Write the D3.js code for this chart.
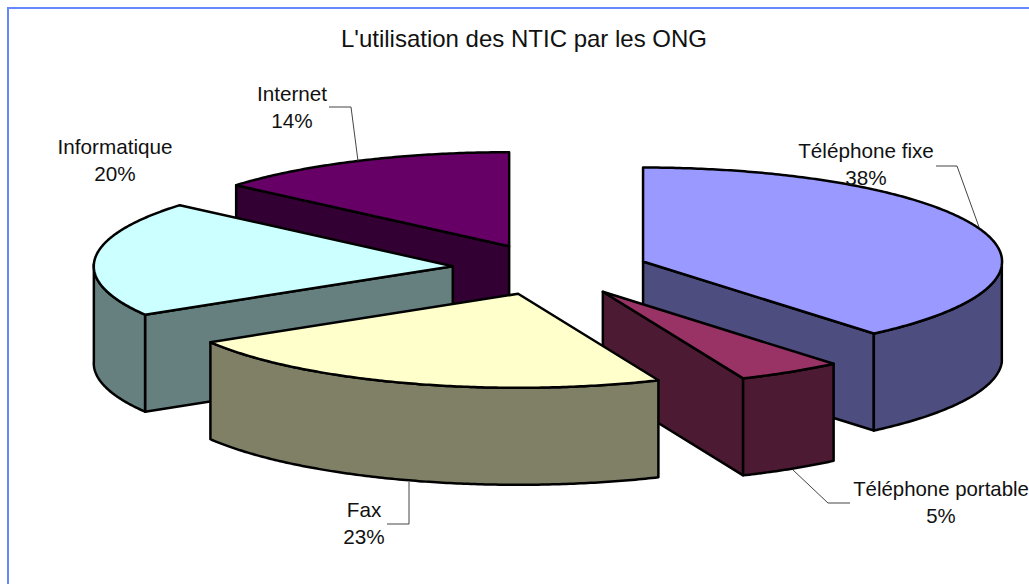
<!DOCTYPE html>
<html><head><meta charset="utf-8">
<script src="https://cdn.jsdelivr.net/npm/d3@7"></script>
<style>html,body{margin:0;padding:0;background:#fff;overflow:hidden}svg{display:block}
text{font-family:"Liberation Sans",Arial,sans-serif;fill:#111}</style></head>
<body><div id="chart"></div>
<script>
const title = "L'utilisation des NTIC par les ONG";
const categories = ["Téléphone fixe","Téléphone portable","Fax","Informatique","Internet"];
const shares = [38,5,23,20,14];
const topColors = ["#9999FF","#993366","#FFFFCC","#CCFFFF","#660066"];
const sideColors = ["#4D4D80","#4D1A33","#808066","#668080","#330033"];
const labelAnchors = [[866,158],[941,496],[364,517],[115,154],[292,101]];
const leaders = [
  [[936,166],[957,166],[979,227]],
  [[793,470],[828,503],[850,503]],
  [[409,482],[409,524],[387,524]],
  [],
  [[329,107],[351,107],[358,161]]
];
// pulled-out offset of each slice, in pie-radius units
const offsets = [[.262,-.09],[.150,.232],[-.086,.253],[-.268,-.04],[-.111,-.253]];
const W=1029,H=584, drop=97;
const sx=d3.scaleLinear().domain([-1,1]).range([549-359,549+359]);
const sy=d3.scaleLinear().domain([-1,1]).range([270-94,270+94]);
// 3D view slightly distorts the sweep of the slices
const warp=d3.scaleLinear().domain([0,136.8,154.8,237.6,309.6,360]).range([0,140,157,239,310.5,360]);
const svg=d3.select("#chart").append("svg").attr("width",W).attr("height",H);
svg.append("rect").attr("x",8).attr("y",8).attr("width",W+20).attr("height",H+20)
  .attr("fill","#fff").attr("stroke","#6688FF").attr("stroke-width",2);
svg.append("text").attr("x",524).attr("y",47).attr("text-anchor","middle").attr("font-size",24).text(title);

const arcs=d3.pie().sort(null).startAngle(0).endAngle(2*Math.PI)(shares);
const line=d3.line().x(p=>p[0]).y(p=>p[1]);
const rad=Math.PI/180;
function pt(a,c,r=1){const t=warp(a/rad)*rad;return [sx(c[0]+r*Math.sin(t)), sy(c[1]-r*Math.cos(t))];}
function sweep(a0,a1,c,dy=0){
  const n=Math.max(2,Math.ceil((a1-a0)/0.01)),out=[];
  for(let i=0;i<=n;i++){const p=pt(a0+(a1-a0)*i/n,c);out.push([p[0],p[1]+dy]);}
  return out;
}
const g=svg.append("g");
const order=[4,3,0,1,2];
order.forEach(i=>{
  const a=arcs[i],a0=a.startAngle,a1=a.endAngle,c=offsets[i];
  const apex=pt(0,c,0), s=g.append("g").attr("stroke","#000").attr("stroke-width",2.5).attr("stroke-linejoin","round");
  const down=p=>[p[0],p[1]+drop];
  if(Math.sin(a0)<-1e-6){const p=pt(a0,c);
    s.append("path").attr("fill",sideColors[i]).attr("d",line([apex,p,down(p),down(apex)])+"Z");}
  if(Math.sin(a1)>1e-6){const p=pt(a1,c);
    s.append("path").attr("fill",sideColors[i]).attr("d",line([apex,p,down(p),down(apex)])+"Z");}
  const w0=Math.max(a0,Math.PI/2),w1=Math.min(a1,3*Math.PI/2);
  if(w1>w0){const top=sweep(w0,w1,c),bot=sweep(w0,w1,c,drop).reverse();
    s.append("path").attr("fill",sideColors[i]).attr("d",line(top.concat(bot))+"Z");}
  s.append("path").attr("fill",topColors[i]).attr("d",line([apex].concat(sweep(a0,a1,c)))+"Z");
});
leaders.forEach(l=>{ if(l.length) svg.append("path").attr("d",line(l)).attr("fill","none").attr("stroke","#444").attr("stroke-width",1);});
categories.forEach((n,i)=>{
  const t=svg.append("text").attr("text-anchor","middle").attr("font-size",i===1?20.4:20.7);
  t.append("tspan").attr("x",labelAnchors[i][0]).attr("y",labelAnchors[i][1]).text(n);
  t.append("tspan").attr("x",labelAnchors[i][0]).attr("y",labelAnchors[i][1]+27).text(shares[i]+"%");
});
</script></body></html>
